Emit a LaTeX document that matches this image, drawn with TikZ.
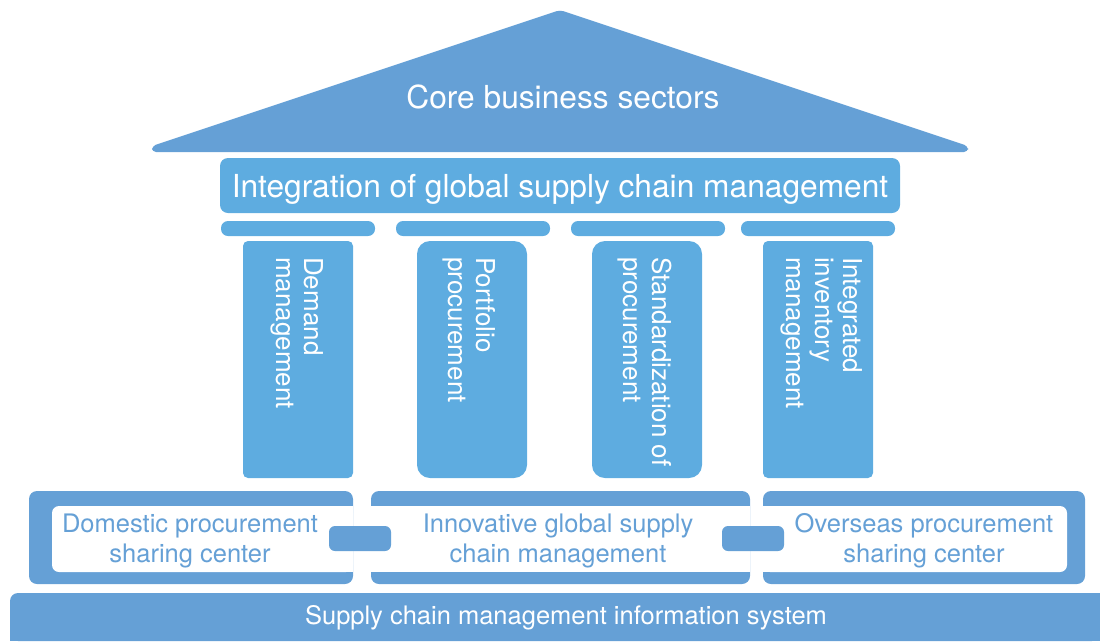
\documentclass[tikz,border=0pt]{standalone}
\usepackage{fontspec}
\setmainfont{TeX Gyre Heros}
\definecolor{dark}{RGB}{101,160,214}
\definecolor{light}{RGB}{94,172,224}
\begin{document}
\begin{tikzpicture}[x=1pt,y=-1pt,
  big/.style={font=\fontsize{31.7}{36}\selectfont, text=white, inner sep=0},
  ptxt/.style={font=\fontsize{26}{28.5}\selectfont, text=white, inner sep=0, rotate=-90, anchor=west, align=left},
  btxt/.style={font=\fontsize{25.5}{30}\selectfont, text=dark, inner sep=0, align=center},
  wtxt/.style={font=\fontsize{25.5}{30}\selectfont, text=white, inner sep=0}]
\useasboundingbox (0,0) rectangle (1100,641);
% roof
\fill[dark, rounded corners=4] (560,10) -- (968,146) -- (968,152) -- (152,152) -- (152,146) -- cycle;
\node[big] (core) at (563,97) {Core business sectors};
% integration bar
\fill[light, rounded corners=8] (220,158) rectangle (900,213);
\node[big] (integ) at (560,189) {Integration of global supply chain management};
% capitals
\fill[light, rounded corners=7] (221,221) rectangle (375,236);
\fill[light, rounded corners=7] (396,221) rectangle (550,236);
\fill[light, rounded corners=7] (571,221) rectangle (725,236);
\fill[light, rounded corners=7] (741,221) rectangle (895,236);
% pillars
\fill[light, rounded corners=5] (243,241) rectangle (353,478);
\fill[light, rounded corners=13] (417,241) rectangle (527,478);
\fill[light, rounded corners=13] (592,241) rectangle (702,478);
\fill[light, rounded corners=5] (763,241) rectangle (873,478);
\node[ptxt] (p1) at (297,257) {Demand\\management};
\node[ptxt] (p2) at (469,257) {Portfolio\\procurement};
\node[ptxt] (p3) at (645,257) {Standardization of\\procurement};
\node[ptxt] (p4) at (822,257) {Integrated\\inventory\\management};
% base blocks
\fill[dark, rounded corners=8] (29,491) rectangle (353,584);
\fill[white, rounded corners=7] (52,506) -- (353,506) -- (353,572) -- (52,572) -- cycle;
\fill[dark, rounded corners=8] (371,491) rectangle (750,584);
\fill[white] (371,506) rectangle (750,572);
\fill[dark, rounded corners=8] (763,491) rectangle (1085,584);
\fill[white, rounded corners=7] (763,506) -- (1067,506) -- (1067,572) -- (763,572) -- cycle;
\fill[white] (763,506) rectangle (775,572);
\fill[white] (340,506) rectangle (353,572);
% links
\node[fill=dark, rounded corners=6, minimum width=62pt, minimum height=25pt, inner sep=0] (l1) at (360,538.5) {};
\node[fill=dark, rounded corners=6, minimum width=62pt, minimum height=25pt, inner sep=0] (l2) at (753,538.5) {};
\node[btxt] (b1) at (190,541) {Domestic procurement\\sharing center};
\node[btxt] (b2) at (558,541) {Innovative global supply\\chain management};
\node[btxt] (b3) at (924,541) {Overseas procurement\\sharing center};
% bottom bar
\fill[dark, rounded corners=8] (10,593) -- (1100,593) -- (1100,641) -- (10,641) -- cycle;
\fill[dark] (1090,593) rectangle (1100,641);
\fill[dark] (10,630) rectangle (30,641);
\node[wtxt] (sys) at (566,618) {Supply chain management information system};
\end{tikzpicture}
\end{document}
